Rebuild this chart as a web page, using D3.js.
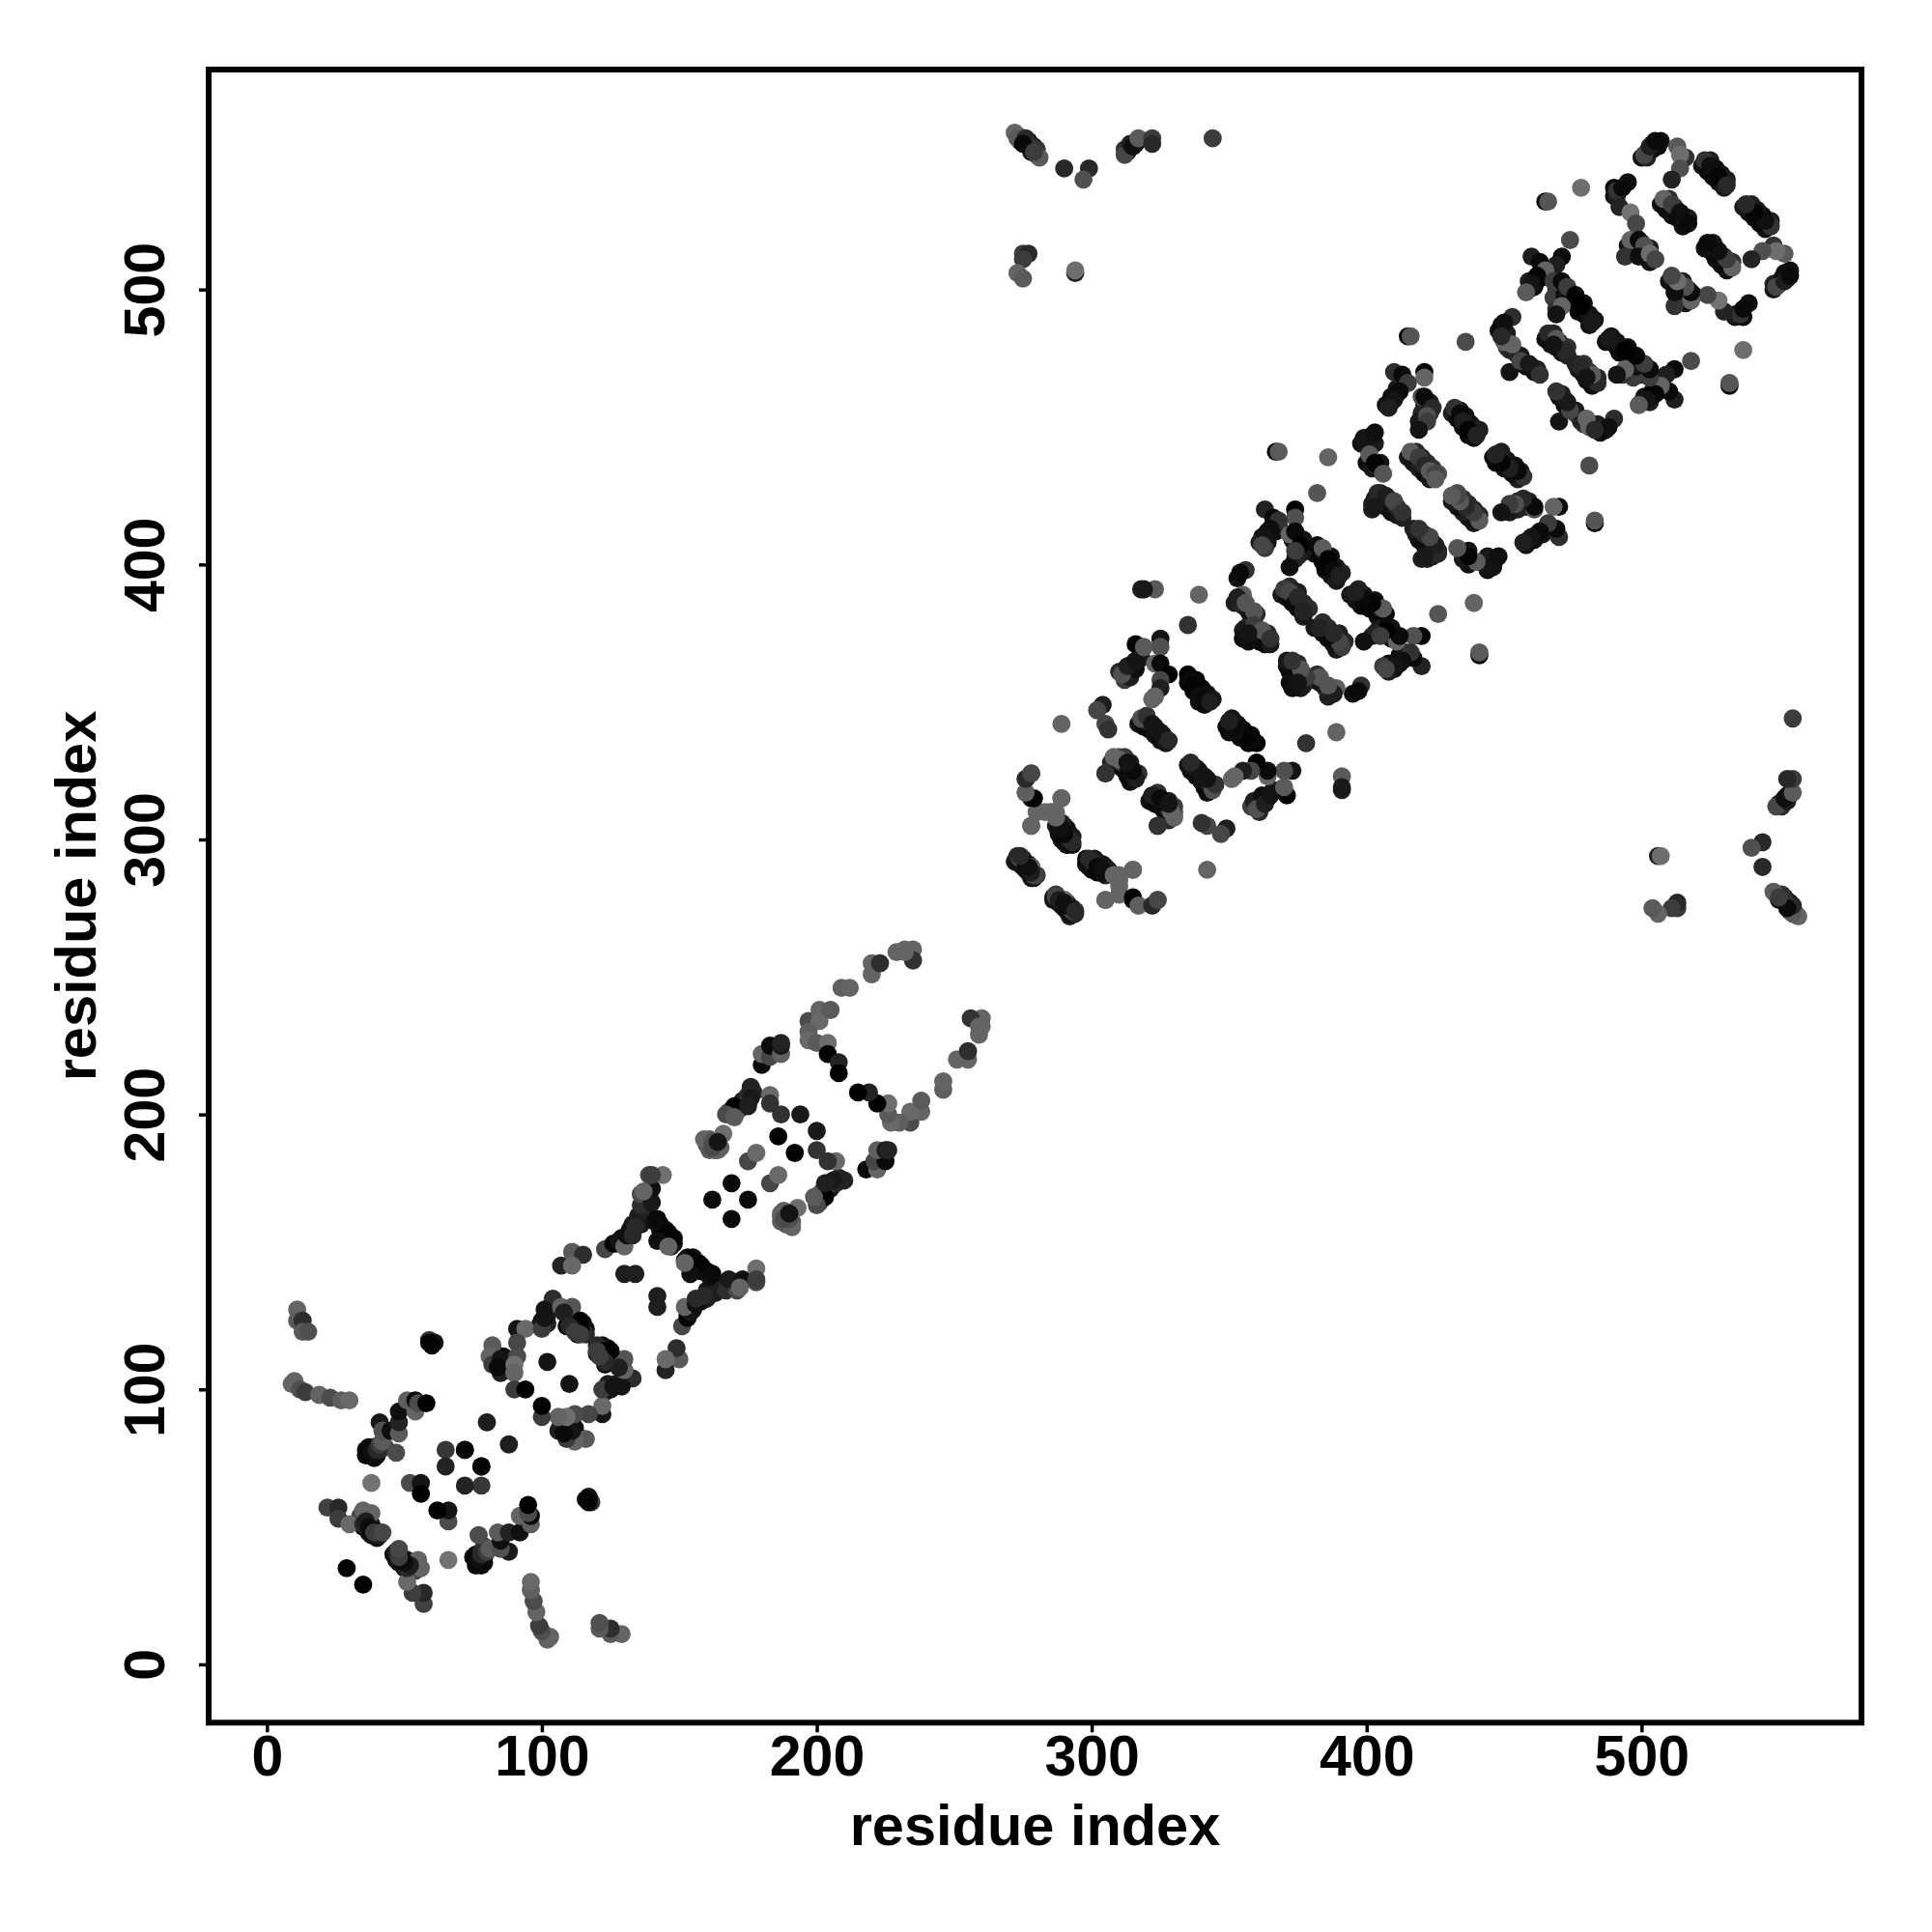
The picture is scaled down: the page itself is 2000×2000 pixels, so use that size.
<!DOCTYPE html>
<html><head><meta charset="utf-8"><style>html,body{margin:0;background:#fff}</style>
<script src="https://cdnjs.cloudflare.com/ajax/libs/d3/7.8.5/d3.min.js"></script></head>
<body><div id="chart"></div>
<script>
// Each contact is [residue i, residue j, grey level]; the map is symmetric, so i<j is listed.
const contactsTerminal = [[11,129,100],[11,125,90],[13,125,45],[13,121,90],[15,121,80],
 [10,103,100],[9,102,100],[12,100,80],[14,99,60],[19,98,100],[23,97,75],[27,96,95],[30,96,105],
 [59,118,60],[60,117,5],[61,117,20],[60,116,5],[59,117,5],
 [22,57,65],[26,57,40],[26,53,60],[30,51,105],[35,56,100],[38,55,100],[35,51,40],[36,52,30],[37,50,15],[38,49,10],[39,48,60],[42,48,70],[29,35,0],
 [38,76,10],[37,77,5],[38,77,15],[40,78,40],[41,80,60],[42,81,90],[47,77,75],[41,88,25],[42,85,80],[45,85,15],[48,84,90],[48,88,35],[48,92,15],[54,92,100],[51,96,95],[54,96,10],[55,95,75],[58,95,0]];
const contactsFirstBlock = [[38,66,115],[52,66,75],[56,66,20],[56,62,0],[65,78,55],[72,78,50],[65,72,35],[78,72,5],[80,88,30],
 [82,116,90],[81,112,100],[82,109,60],[85,111,20],[85,106,30],[84,108,10],[91,122,20],[94,122,105],[91,117,70],[91,112,75],[90,109,110],[90,106,100],[90,100,60],[94,100,0],
 [100,122,60],[101,126,20],[104,133,45],[101,129,20],[107,130,100],[111,130,85],[109,123,10],[108,128,30],[114,125,0],[114,122,0],[114,120,60],[110,123,40],[112,121,60],[102,110,20],
 [111,150,90],[115,149,45],[107,145,35],[111,145,105],[130,142,30],[134,142,30],
 [123,151,70],[126,153,5],[128,154,20],[130,152,100],[131,156,15],[133,156,40],[134,159,40],[136,167,45],[136,171,70],[140,168,25],[140,173,15],[137,172,100],[139,178,70],[144,178,110],[141,161,15],[142,162,10],[146,157,5],[147,154,5],[142,154,15],[146,152,100],[140,178,60]];
const contactsSecondBlock = [[162,169,10],[169,175,10],[175,183,70],[178,186,105],[186,192,0],[194,200,25],[187,200,50],[183,207,105],[183,204,50],
 [170,203,0],[176,210,35],[176,206,25],[175,203,30],[167,200,75],[170,199,90],[159,191,100],[162,190,80],[166,193,110],[165,188,95],[162,188,75],[164,190,20],
 [180,218,10],[180,222,100],[183,221,70],[183,225,10],[187,222,95],[187,225,25],[187,226,35],
 [197,234,75],[201,238,100],[201,234,105],[205,238,90],[197,230,95],[197,227,105],[200,226,90],[204,226,110],[204,222,0],[208,219,35],[208,215,0],
 [209,246,95],[212,246,100],[220,255,100],[220,251,100],[223,255,45],[229,259,100],[232,260,105],[235,260,100],[235,256,50],[232,259,100]];
const contactsRepeatA = [[273,294,40],[274,293,70],[276,291,10],[278,290,100],[280,287,60],[278,324,85],[276,322,60],[276,317,100],[278,315,5],[289,315,105],[280,310,95],[285,310,110],[287,310,105],[283,310,105],[278,305,100],[289,306,30],[289,302,5],[292,300,40],[288,304,15],
 [299,293,40],[302,290,10],[304,289,15],[308,287,100],[310,286,100],[315,289,100],[310,280,100],[305,278,100],[315,279,0],[317,276,95],[322,276,40],[324,278,70],[287,279,70],[288,278,30],[290,277,15],[294,274,40],
 [289,342,100],[304,349,30],[302,347,70],[305,342,70],[306,340,50],[305,324,60],[308,330,100],[311,328,60],[313,327,10],[315,325,70],[317,324,50],[322,316,30],[325,315,10],[329,310,100],[328,313,20],[324,305,50]];
const contactsRepeatB = [[318,344,80],[320,345,50],[322,342,20],[325,339,20],[328,336,40],[311,360,80],[313,363,30],[316,365,20],[316,371,5],[319,370,90],[325,373,20],[325,370,80],[323,364,100],[325,364,10],[328,360,0],[325,358,70],[325,355,30],[323,352,100],[322,351,100],
 [335,360,0],[336,358,10],[337,356,5],[339,352,15],[341,351,10],[343,350,30],[335,378,50],[339,389,100],[318,391,30],[323,391,90],[319,391,25],
 [367,441,5],[368,441,90],[386,439,100],[382,426,85],[363,420,35],[366,417,10],[374,420,0],[374,417,80],[368,416,50],[365,413,15],[363,410,20],[362,407,70],[372,411,100],[374,412,10],[376,407,0],[375,403,35],[372,399,15],[374,405,60],
 [382,407,10],[384,406,90],[386,402,5],[386,399,5],[388,398,10],[390,396,30],[356,398,50],[353,395,15],[354,397,10],[355,389,95],[353,388,30],[356,386,85],[359,383,85],
 [370,391,60],[372,390,70],[374,386,10],[375,388,40],[377,383,35],[355,376,25],[355,373,15],[359,378,60],[362,376,85],[365,373,50],[357,375,20]];
const contactsRepeatC = [[402,447,20],[399,446,20],[403,448,15],[401,440,90],[403,437,5],[406,433,85],[416,441,90],[419,439,60],[421,436,40],[423,434,90],[425,433,70],[425,431,90],[402,420,30],[404,426,40],[407,425,30],[410,423,70],[413,419,50],[403,421,25],
 [415,483,5],[416,483,85],[436,481,75],[410,470,45],[413,469,10],[421,470,5],[421,468,100],[415,466,60],[412,463,10],[410,460,20],[408,457,30],[420,461,80],[421,461,10],[424,457,40],[422,454,80],[422,452,60],[419,449,20],
 [432,457,50],[434,455,10],[435,452,30],[437,449,5],[440,447,35],
 [465,532,5],[466,532,85],[478,537,110],[474,518,75],[495,539,15],[491,536,50],[493,537,10],[492,530,35],[496,528,115],[498,524,70],[496,518,100],[499,518,10],[501,516,80],[494,512,50],[499,512,15],[503,513,110],[505,511,70],
 [501,549,70],[503,552,30],[505,554,10],[513,552,90],[516,548,50],[514,549,110],[514,544,80],[511,540,35],[508,533,100],[511,531,60],[514,528,15],[517,524,10],[523,547,50],[525,545,15],[528,541,5],[531,538,40],
 [460,512,30],[463,510,10],[471,512,10],[469,509,30],[465,507,100],[462,505,5],[460,502,20],[458,499,90],[468,503,60],[471,503,10],[473,501,60],[471,494,100],[476,498,5],[469,491,20],[478,494,0],[482,488,25],
 [453,490,45],[449,487,10],[450,488,15],[450,481,100],[453,480,100],[449,483,40],[452,470,20],[456,474,70],[459,473,25],[463,469,50],[466,484,40],[469,482,90],[472,478,40],[468,480,20]];
const contactsLongRange = [[272,557,100],[273,555,90],[276,555,40],[278,552,50],[275,553,10],[281,548,90],[279,550,60],[290,544,40],[299,544,40],[297,540,80],[312,549,70],[314,553,30],[315,552,15],[317,555,90],[322,555,60],[322,553,40],[344,555,60],
 [275,513,60],[277,513,40],[275,511,60],[273,506,100],[275,504,90],[294,506,30],[294,507,110]];
// Further overlapping contacts that make the strands as wide as they appear.
const strandFillLow = [[36,78,15],[39,79,25],[37,79,10],[40,76,20],[39,75,10],[36,76,10],[41,78,40],[43,79,60],[42,79,45],
 [38,51,30],[39,49,20],[36,50,15],[36,53,40],[37,52,30],[38,47,20],[40,46,15],[41,47,30],[34,54,70],[35,50,15],[37,48,15],
 [83,113,30],[84,111,15],[86,109,30],[86,112,10],[87,110,25],[87,107,15],[83,110,20],[88,108,45],[89,107,60],
 [99,123,40],[100,125,20],[102,127,25],[102,124,30],[103,130,30],[105,131,60],[112,123,5],[113,124,5],[113,120,15],[115,122,5],[115,124,10],[116,122,15],[116,120,40],
 [136,160,25],[138,165,30],[138,163,25],[136,164,35],[133,160,30],[132,158,20],[129,155,15],[127,153,20],[135,163,30],[143,158,5],[144,156,10],[145,158,10],[143,160,10],[144,154,20],[148,153,10],[147,152,25],[148,155,10],[145,156,5],
 [172,202,40],[173,205,30],[175,207,40],[177,208,35],[174,204,50],[168,201,70],[171,201,85],[160,189,85],[163,187,60],[161,191,90],[161,187,90],[164,187,100]];
const strandFillRepeatA = [[272,292,30],[274,291,15],[275,290,10],[277,289,25],[278,287,15],[279,286,30],[275,293,30],[277,291,20],
 [286,278,20],[288,277,10],[289,276,15],[291,275,10],[292,273,20],[293,273,15],[290,278,45],
 [298,291,20],[300,290,10],[301,289,15],[303,288,10],[305,287,30],[302,292,30],[304,291,25],[306,289,20],
 [288,302,10],[289,300,5],[290,299,10],[291,298,15],[293,298,10],[291,303,10],[293,301,25],[290,305,20],
 [307,328,40],[309,327,20],[311,326,10],[313,325,15],[315,323,10],[310,330,80],[312,329,50],[314,328,30],
 [317,342,15],[319,341,10],[321,340,10],[323,338,15],[325,336,10],[327,335,20],[320,343,40],[323,341,25],[326,338,30],
 [321,314,15],[323,313,10],[325,312,15],[327,311,10],[329,309,25],[324,316,25],[327,314,30],[330,312,60],
 [335,357,5],[337,354,5],[339,350,10],[341,349,10],[338,358,5],[340,355,5],[342,353,15],[344,351,20],
 [310,361,40],[312,361,25],[314,362,10],[315,364,10],[312,358,60],[314,359,30],[316,362,15],[318,366,25]];
const strandFillRepeatB = [[352,386,30],[355,385,40],[357,383,25],[358,381,20],[360,382,45],
 [369,389,25],[371,388,15],[373,386,10],[375,384,15],[377,381,25],[372,392,40],[375,390,30],[377,386,40],[379,384,45],
 [381,404,15],[383,403,5],[384,401,5],[385,398,5],[387,396,15],[389,394,25],[384,405,25],[387,403,15],[389,399,20],[391,397,35],
 [357,372,15],[359,373,10],[361,372,15],[363,371,10],[365,371,25],[360,377,30],[364,375,40],[356,377,40],
 [373,409,10],[375,410,15],[377,409,20],[376,404,15],[374,402,15],[377,405,25],[364,408,15],[362,410,10],[367,412,15],[366,414,10],[364,412,10],[363,406,60],[361,408,30],[368,414,20],
 [398,444,15],[400,443,20],[401,446,25],[403,444,25],[400,437,15],[402,435,25],[404,435,30],[405,437,20],
 [415,439,25],[417,437,20],[419,435,30],[421,433,15],[423,431,25],[418,441,40],[420,439,30],[422,437,40],[424,435,50],[426,433,80],
 [403,424,20],[405,423,15],[407,421,10],[409,419,15],[411,418,20],[413,417,30],[405,426,35],[408,424,30],[411,421,40],[402,422,30]];
const strandFillRepeatC = [[407,458,20],[409,461,15],[411,464,20],[409,459,15],[411,462,10],[413,465,30],
 [431,455,30],[433,453,10],[435,450,15],[437,447,10],[439,446,15],[434,456,25],[436,454,15],[438,451,20],[441,449,30],
 [421,458,30],[423,455,40],[420,455,35],[421,452,40],[419,452,25],[423,459,30],
 [451,479,60],[452,478,40],[454,477,30],[455,476,45],[456,476,25],[457,473,15],[458,472,10],[460,472,20],[461,470,15],[462,471,30],[451,484,30],[448,485,15],
 [465,482,15],[467,480,10],[469,479,15],[471,477,20],[473,476,35],[468,484,35],[470,481,30],[473,479,50],
 [475,496,10],[477,492,5],[479,491,10],[481,487,15],[483,489,20],[479,495,15],[481,491,20],[474,499,15],[472,500,25],
 [459,500,15],[461,503,10],[463,506,15],[461,501,15],[463,504,5],[466,507,40],[459,503,30],[469,500,40],[470,497,30],[468,497,60],[472,498,15],[473,497,20],[470,503,30],[469,493,50],
 [495,516,20],[497,515,10],[499,514,20],[501,512,15],[503,510,20],[498,519,40],[500,517,20],[503,515,30],[502,514,30],
 [507,531,15],[509,529,10],[511,527,15],[513,526,10],[515,523,15],[510,533,45],[512,530,25],[515,527,30],[517,526,25],
 [522,545,20],[524,543,10],[526,541,10],[528,539,15],[530,537,25],[525,547,30],[527,544,15],[529,542,20],[531,540,30],
 [500,548,20],[502,550,15],[503,551,10],[504,553,5],[502,548,35],[504,551,15],[506,553,10],[507,554,15],[506,552,15],
 [490,534,15],[491,534,30],[490,537,10],[273,556,10],[274,554,5],[276,553,10],[278,550,20],[280,549,40],[277,554,15],[279,552,25],[280,551,50],
 [312,551,45],[313,550,20],[316,553,10]];
const xTickValues = [0,100,200,300,400,500];
const yTickValues = [0,100,200,300,400,500];
const xLabelText = "residue index";
const yLabelText = "residue index";

const halfContacts = [...strandFillLow,...strandFillRepeatA,...strandFillRepeatB,...strandFillRepeatC,
  ...contactsTerminal,...contactsFirstBlock,...contactsSecondBlock,...contactsRepeatA,...contactsRepeatB,...contactsRepeatC,...contactsLongRange];
const contacts = halfContacts.flatMap(([i,j,g]) => [{x:i,y:j,g},{x:j,y:i,g}]);

const x=d3.scaleLinear().domain([-21.2,580]).range([216,1927]);
const y=d3.scaleLinear().domain([-21.2,580]).range([1783.3,72]);
const font='"Liberation Sans",Arial,sans-serif';
const svg=d3.select("#chart").append("svg").attr("width",2000).attr("height",2000).style("display","block").style("background","#fff");

svg.append("g").selectAll("circle").data(contacts).join("circle")
  .attr("cx",d=>x(d.x)).attr("cy",d=>y(d.y)).attr("r",9.4)
  .attr("fill",d=>d3.rgb(d.g,d.g,d.g).formatHex());

svg.append("rect").attr("x",216).attr("y",72).attr("width",1711).attr("height",1711.3)
  .attr("fill","none").attr("stroke","#000").attr("stroke-width",6);

const xAxis=svg.append("g").attr("transform","translate(0,1783.3)")
  .call(d3.axisBottom(x).tickValues(xTickValues).tickSize(10).tickPadding(0).tickFormat(d3.format("d")));
const yAxis=svg.append("g").attr("transform","translate(216,0)")
  .call(d3.axisLeft(y).tickValues(yTickValues).tickSize(10).tickPadding(0).tickFormat(d3.format("d")));
[xAxis,yAxis].forEach(a=>{a.select(".domain").remove();a.selectAll("line").attr("stroke","#000").attr("stroke-width",3.5);
  a.selectAll("text").attr("font-family",font).attr("font-weight","bold").attr("font-size",59).attr("fill","#000");});
xAxis.selectAll("text").attr("y",0).attr("dy",0).attr("transform","translate(0,55)");
yAxis.selectAll("text").attr("x",0).attr("y",0).attr("dy",0).attr("text-anchor","middle")
  .attr("transform","translate(-46,0) rotate(-90)");

svg.append("text").attr("x",1071.5).attr("y",1910).attr("text-anchor","middle")
  .attr("font-family",font).attr("font-weight","bold").attr("font-size",59.5).text(xLabelText);
svg.append("text").attr("transform","translate(99,927.5) rotate(-90)").attr("text-anchor","middle")
  .attr("font-family",font).attr("font-weight","bold").attr("font-size",59.5).text(yLabelText);
</script></body></html>
